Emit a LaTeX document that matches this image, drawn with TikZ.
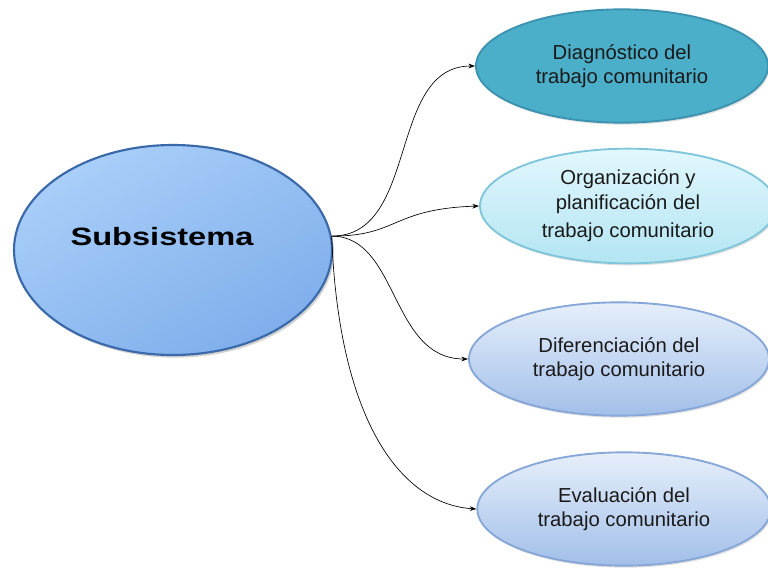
\documentclass[tikz,border=0pt]{standalone}
\usepackage{fontspec}
\setmainfont{Liberation Sans}
\newfontfamily\hubfont[FakeStretch=1.3]{Liberation Sans}
\usetikzlibrary{shapes.geometric,shadows,arrows.meta}

\definecolor{hubtop}{HTML}{A9CFF9}
\definecolor{hubbot}{HTML}{7FAEEB}
\definecolor{hubrim}{HTML}{3A69AA}
\definecolor{diagfill}{HTML}{4BAFC9}
\definecolor{diagrim}{HTML}{3C93B0}
\definecolor{orgtop}{HTML}{E2F7FD}
\definecolor{orgbot}{HTML}{B3E5F3}
\definecolor{orgrim}{HTML}{80C6DA}
\definecolor{leaftop}{HTML}{E6EFFB}
\definecolor{leafbot}{HTML}{A2BFE9}
\definecolor{leafrim}{HTML}{86A7D8}
\definecolor{ink}{HTML}{1A1A1A}

\tikzset{
  hub/.style={ellipse, draw=hubrim, line width=1.6pt, top color=hubtop, bottom color=hubbot,
    shading angle=30, minimum width=238.5pt, minimum height=157.5pt,
    drop shadow={shadow xshift=1.5pt, shadow yshift=-2pt, opacity=0.35}},
  leaf/.style={ellipse, line width=1.4pt, minimum width=222pt, minimum height=85pt,
    align=center, text=ink, font=\fontsize{15.2}{18.4}\selectfont,
    drop shadow={shadow xshift=1pt, shadow yshift=-1.5pt, opacity=0.25}},
  link/.style={-{Stealth[length=5pt,width=3.5pt]}, line width=0.5pt}
}

\begin{document}
\begin{tikzpicture}[x=0.75pt,y=-0.75pt]
\useasboundingbox[fill=white] (0,0) rectangle (768,568);

% Subsystem
\node[hub] (sub) at (173,250) {};
\node[font=\hubfont\bfseries\fontsize{18.8}{22}\selectfont, text=black] (subtext) at (162,237) {Subsistema};

% Components
\node[leaf, draw=diagrim, fill=diagfill, minimum width=219pt] (diag) at (622,66)
  {Diagn\'ostico del\\trabajo comunitario};
\node[leaf, draw=orgrim, top color=orgtop, bottom color=orgbot] (org) at (628,206)
  {Organizaci\'on y\\planificaci\'on del\\[3pt]trabajo comunitario};
\node[leaf, draw=leafrim, top color=leaftop, bottom color=leafbot, minimum width=225pt] (dif) at (619,359)
  {Diferenciaci\'on del\\trabajo comunitario};
\node[leaf, draw=leafrim, top color=leaftop, bottom color=leafbot, minimum width=220pt] (eva) at (624,509)
  {Evaluaci\'on del\\trabajo comunitario};

% Connectors
\draw[link] (sub.5) .. controls +(88,0) and +(-88,0) .. (diag.west);
\draw[link] (sub.5) .. controls +(67,0) and +(-88,3) .. (org.west);
\draw[link] (sub.5) .. controls +(67,0) and +(-78,0) .. (dif.west);
\draw[link] (sub.5) .. controls +(7,184) and +(-76,-5) .. (eva.west);
\end{tikzpicture}
\end{document}
